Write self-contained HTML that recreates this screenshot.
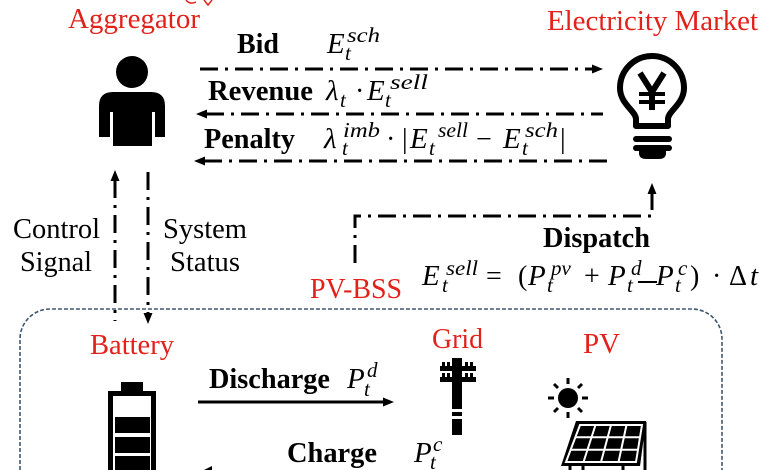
<!DOCTYPE html>
<html><head><meta charset="utf-8">
<style>
html,body{margin:0;padding:0;background:#fff;width:780px;height:470px;overflow:hidden;}
svg{display:block;}
.lbl{font-family:"Liberation Serif",serif;font-size:28px;fill:#000;}
.b{font-weight:bold;}
.red{fill:#e3211b;}
.m{font-family:"Liberation Serif",serif;font-style:italic;font-size:29px;fill:#000;}
.s{font-family:"Liberation Serif",serif;font-style:italic;font-size:21px;fill:#000;}
.u{font-family:"Liberation Serif",serif;font-style:normal;font-size:28px;fill:#000;}
.dd{stroke:#000;stroke-width:3;fill:none;stroke-dasharray:18 7 3 7;}
</style></head>
<body>
<svg width="780" height="470" viewBox="0 0 780 470" xmlns="http://www.w3.org/2000/svg">
<rect width="780" height="470" fill="#fff"/>

<!-- cut-off title fragment -->
<path d="M186,0 Q190,5 196,2 M204,0 L208,5 L212,0" fill="none" stroke="#e3211b" stroke-width="1.5"/>

<!-- red labels -->
<text class="lbl red" x="68" y="28" textLength="132" lengthAdjust="spacingAndGlyphs">Aggregator</text>
<text class="lbl red" x="547" y="30" textLength="211" lengthAdjust="spacingAndGlyphs">Electricity Market</text>
<text class="lbl red" x="310" y="298" textLength="92" lengthAdjust="spacingAndGlyphs">PV-BSS</text>
<text class="lbl red" x="90" y="354" textLength="84" lengthAdjust="spacingAndGlyphs">Battery</text>
<text class="lbl red" x="432" y="348" textLength="51" lengthAdjust="spacingAndGlyphs">Grid</text>
<text class="lbl red" x="583" y="353" textLength="37" lengthAdjust="spacingAndGlyphs">PV</text>

<!-- black labels -->
<text class="lbl b" x="237" y="53" textLength="42" lengthAdjust="spacingAndGlyphs">Bid</text>
<text class="lbl b" x="208" y="100" textLength="105" lengthAdjust="spacingAndGlyphs">Revenue</text>
<text class="lbl b" x="204" y="148" textLength="91" lengthAdjust="spacingAndGlyphs">Penalty</text>
<text class="lbl" x="13" y="238" textLength="87" lengthAdjust="spacingAndGlyphs">Control</text>
<text class="lbl" x="20" y="271" textLength="72" lengthAdjust="spacingAndGlyphs">Signal</text>
<text class="lbl" x="163" y="238" textLength="84" lengthAdjust="spacingAndGlyphs">System</text>
<text class="lbl" x="170" y="271" textLength="70" lengthAdjust="spacingAndGlyphs">Status</text>
<text class="lbl b" x="543" y="247" textLength="107" lengthAdjust="spacingAndGlyphs">Dispatch</text>
<text class="lbl b" x="209" y="388" textLength="121" lengthAdjust="spacingAndGlyphs">Discharge</text>
<text class="lbl b" x="287" y="462" textLength="90" lengthAdjust="spacingAndGlyphs">Charge</text>

<!-- Bid math -->
<text class="m" x="327" y="53">E</text>
<text class="s" x="345" y="60">t</text>
<text class="s" x="347" y="42" textLength="33" lengthAdjust="spacingAndGlyphs">sch</text>

<!-- Revenue math -->
<text class="m" x="326" y="100">λ</text>
<text class="s" x="340" y="107">t</text>
<text class="u" x="355" y="100">·</text>
<text class="m" x="367" y="100">E</text>
<text class="s" x="385" y="107">t</text>
<text class="s" x="390" y="89" textLength="38" lengthAdjust="spacingAndGlyphs">sell</text>

<!-- Penalty math -->
<text class="m" x="324" y="148">λ</text>
<text class="s" x="342" y="155">t</text>
<text class="s" x="343" y="137" textLength="37" lengthAdjust="spacingAndGlyphs">imb</text>
<text class="u" x="386" y="148">·</text>
<text class="u" x="402" y="148">|</text>
<text class="m" x="410" y="148">E</text>
<text class="s" x="429" y="155">t</text>
<text class="s" x="438" y="137" textLength="30" lengthAdjust="spacingAndGlyphs">sell</text>
<text class="u" x="476" y="148">−</text>
<text class="m" x="503" y="148">E</text>
<text class="s" x="522" y="155">t</text>
<text class="s" x="525" y="137" textLength="33" lengthAdjust="spacingAndGlyphs">sch</text>
<text class="u" x="560" y="148">|</text>

<!-- Dispatch math -->
<text class="m" x="422" y="285">E</text>
<text class="s" x="442" y="292">t</text>
<text class="s" x="446" y="275" textLength="32" lengthAdjust="spacingAndGlyphs">sell</text>
<text class="u" x="486" y="285">=</text>
<text class="u" x="518" y="285">(</text>
<text class="m" x="528" y="285">P</text>
<text class="s" x="547" y="292">t</text>
<text class="s" x="551" y="275">pv</text>
<text class="u" x="584" y="285">+</text>
<text class="m" x="608" y="285">P</text>
<text class="s" x="627" y="292">t</text>
<text class="s" x="631" y="275">d</text>
<line x1="638" y1="282" x2="657" y2="282" stroke="#000" stroke-width="2"/>
<text class="m" x="656" y="285">P</text>
<text class="s" x="675" y="292">t</text>
<text class="s" x="678" y="275">c</text>
<text class="u" x="690" y="285">)</text>
<text class="u" x="712" y="285">·</text>
<text class="u" x="729" y="285">Δ</text>
<text class="m" x="750" y="285">t</text>

<!-- Discharge / Charge math -->
<text class="m" x="347" y="388">P</text>
<text class="s" x="364" y="396">t</text>
<text class="s" x="367" y="377">d</text>
<text class="m" x="414" y="462">P</text>
<text class="s" x="430" y="469">t</text>
<text class="s" x="433" y="451">c</text>

<!-- Market connectors -->
<line class="dd" x1="200" y1="69" x2="593" y2="69"/>
<polygon points="603,69 592,64.5 592,73.5" fill="#000"/>
<line class="dd" x1="206" y1="114" x2="603" y2="114"/>
<polygon points="196,114 207,109.5 207,118.5" fill="#000"/>
<line class="dd" x1="204" y1="161" x2="611" y2="161"/>
<polygon points="194,161 205,156.5 205,165.5" fill="#000"/>

<!-- vertical connectors -->
<line class="dd" x1="115" y1="180" x2="115" y2="321"/>
<polygon points="115,170 110.5,181 119.5,181" fill="#000"/>
<line class="dd" x1="148" y1="172" x2="148" y2="314"/>
<polygon points="148,324 143.5,313 152.5,313" fill="#000"/>

<!-- dispatch connector -->
<polyline class="dd" points="355,263 355,216 652,216 652,193"/>
<polygon points="652,183 647.5,194 656.5,194" fill="#000"/>

<!-- Person -->
<circle cx="132" cy="72" r="16" fill="#000"/>
<path d="M99,137 L99,106 Q99,92 113,92 L151,92 Q165,92 165,106 L165,137 L155,137 L155,146 L110,146 L110,137 Z" fill="#000"/>
<rect x="110" y="112" width="3" height="35" fill="#fff"/>
<rect x="152" y="112" width="3" height="35" fill="#fff"/>
<rect x="99" y="137" width="11" height="10" fill="#fff"/>
<rect x="155" y="137" width="11" height="10" fill="#fff"/>

<!-- Lightbulb -->
<path d="M636,126 L636,119 C636,111 620,104 620,88 A32,32 0 1 1 684,88 C684,104 668,111 668,119 L668,126 Z" fill="none" stroke="#000" stroke-width="6" stroke-linejoin="round"/>
<rect x="633" y="136" width="39" height="6" rx="3" fill="#000"/>
<rect x="633" y="145" width="39" height="6" rx="3" fill="#000"/>
<path d="M639,151 L666,151 L666,153 Q666,159 659,159 L646,159 Q639,159 639,153 Z" fill="#000"/>
<polyline points="640,73 652,92 664,73" fill="none" stroke="#000" stroke-width="6"/>
<line x1="652" y1="90" x2="652" y2="110" stroke="#000" stroke-width="6"/>
<line x1="639" y1="94" x2="665" y2="94" stroke="#000" stroke-width="4"/>
<line x1="639" y1="102" x2="665" y2="102" stroke="#000" stroke-width="4"/>

<!-- PV-BSS dashed box -->
<path d="M20,470 L20,339 A30,30 0 0 1 50,309 L692,309 A30,30 0 0 1 722,339 L722,470" fill="none" stroke="#3f5670" stroke-width="1.6" stroke-dasharray="4 2"/>

<!-- Battery -->
<rect x="121" y="382" width="22" height="11" fill="#000"/>
<path d="M110.5,470 L110.5,393.5 L153.5,393.5 L153.5,470" fill="none" stroke="#000" stroke-width="5"/>
<rect x="115" y="417" width="35" height="16" fill="#000"/>
<rect x="115" y="437" width="35" height="16" fill="#000"/>
<rect x="115" y="456" width="35" height="14" fill="#000"/>

<!-- Discharge arrow -->
<line x1="198" y1="402" x2="384" y2="402" stroke="#000" stroke-width="3"/>
<polygon points="394,402 383,397.5 383,406.5" fill="#000"/>
<!-- Charge arrow tip (rest off-canvas) -->
<polygon points="204,470 212,466 212,470" fill="#000"/>

<!-- Grid pole -->
<rect x="452" y="358" width="10" height="77" fill="#000"/>
<rect x="452" y="409" width="10" height="3" fill="#fff"/>
<rect x="452" y="416" width="10" height="3" fill="#fff"/>
<rect x="440" y="366" width="36" height="5" fill="#000"/>
<rect x="440" y="377" width="36" height="5" fill="#000"/>
<g fill="#000">
<rect x="442" y="362" width="3" height="4"/><rect x="447" y="362" width="3" height="4"/>
<rect x="465" y="362" width="3" height="4"/><rect x="470" y="362" width="3" height="4"/>
<rect x="442" y="373" width="3" height="4"/><rect x="447" y="373" width="3" height="4"/>
<rect x="465" y="373" width="3" height="4"/><rect x="470" y="373" width="3" height="4"/>
</g>

<!-- Sun -->
<circle cx="568" cy="398" r="10" fill="#000"/>
<g stroke="#000" stroke-width="3" stroke-linecap="butt">
<line x1="568" y1="384" x2="568" y2="378"/>
<line x1="568" y1="412" x2="568" y2="418"/>
<line x1="554" y1="398" x2="548" y2="398"/>
<line x1="582" y1="398" x2="588" y2="398"/>
<line x1="558" y1="388" x2="554" y2="384"/>
<line x1="578" y1="388" x2="582" y2="384"/>
<line x1="558" y1="408" x2="554" y2="412"/>
<line x1="578" y1="408" x2="582" y2="412"/>
</g>

<!-- Solar panel -->
<line x1="645" y1="422" x2="645" y2="470" stroke="#000" stroke-width="3"/>
<polygon points="576,421 646,421 640,466 561,466" fill="#000"/>
<polygon points="580,425 642,425 636,462 566,462" fill="none" stroke="#fff" stroke-width="2"/>
<g stroke="#fff" stroke-width="2">
<line x1="595.5" y1="425" x2="583.5" y2="462"/>
<line x1="611" y1="425" x2="601" y2="462"/>
<line x1="626.5" y1="425" x2="618.5" y2="462"/>
<line x1="575.3" y1="437.3" x2="640" y2="437.3"/>
<line x1="570.7" y1="449.7" x2="638" y2="449.7"/>
</g>
<g stroke="#000" stroke-width="3">
<line x1="570" y1="466" x2="570" y2="470"/>
<line x1="583" y1="466" x2="583" y2="470"/>
<line x1="623" y1="466" x2="623" y2="470"/>
</g>
</svg>
</body></html>
